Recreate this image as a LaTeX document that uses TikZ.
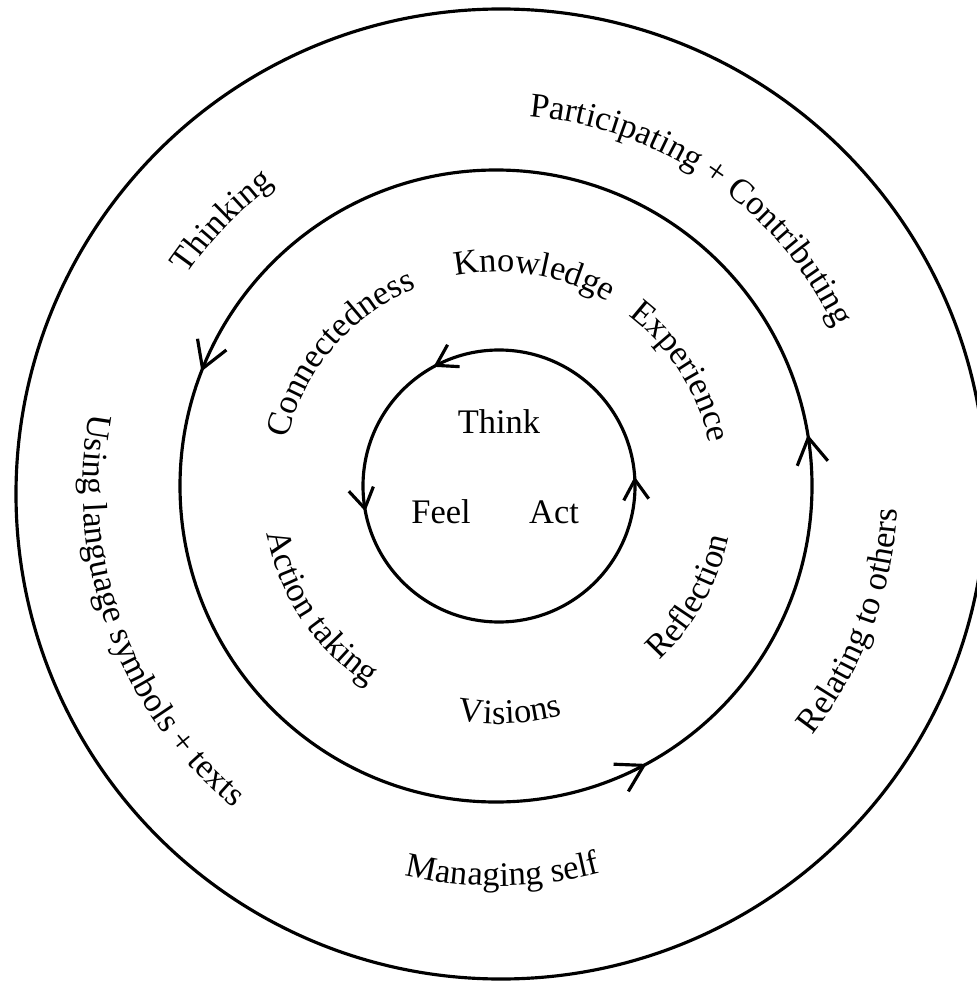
\documentclass[tikz,border=0pt]{standalone}
\usepackage{fontspec}
\setmainfont{Liberation Serif}
\usetikzlibrary{arrows.meta}
\usetikzlibrary{decorations.markings}
\usetikzlibrary{decorations.text}
\newcommand{\ringfont}{\fontsize{9.8}{12}\selectfont}

\begin{document}
\begin{tikzpicture}[line width=0.9pt,
    bigtip/.tip={Straight Barb[length=2.6mm,width=3.1mm]},
    smalltip/.tip={Straight Barb[length=2mm,width=2.5mm]},
    ringtext/.style={decorate, decoration={text along path, text align=center, text={|\ringfont|#1}}},
    every node/.style={font=\ringfont}]
      \useasboundingbox (0,0) rectangle (9.77,-9.82);
      % the three rings
      \draw (5.01,-4.94) circle [radius=4.85];
      \draw [postaction={decorate, decoration={markings,
          mark=at position 0.026 with {\arrow{bigtip}},
          mark=at position 0.441 with {\arrow{bigtip}},
          mark=at position 0.829 with {\arrow{bigtip}}}}]
        (4.96,-4.86) circle [radius=3.16];
      \draw [postaction={decorate, decoration={markings,
          mark=at position 0.011 with {\arrow{smalltip}},
          mark=at position 0.33 with {\arrow{smalltip}},
          mark=at position 0.53 with {\arrow{smalltip}}}}]
        (4.99,-4.86) circle [radius=1.36];

      % centre
      \node [anchor=base] (think) at (4.99,-4.33) {Think};
      \node [anchor=base] (feel) at (4.41,-5.23) {Feel};
      \node [anchor=base] (act) at (5.54,-5.23) {Act};

      % middle ring
      \path [ringtext=Connectedness] (4.98,-4.88) ++(199.5:2.16) arc [start angle=199.5, end angle=79.5, radius=2.16];
      \path [ringtext=Knowledge] (4.98,-4.88) ++(140.4:2.16) arc [start angle=140.4, end angle=20.4, radius=2.16];
      \path [ringtext=Experience] (4.98,-4.88) ++(92.4:2.16) arc [start angle=92.4, end angle=-27.6, radius=2.16];
      \path [ringtext=Action taking] (4.98,-4.88) ++(154:2.36) arc [start angle=154, end angle=274, radius=2.36];
      \path [ringtext=Visions] (4.98,-4.88) ++(213:2.36) arc [start angle=213, end angle=333, radius=2.36];
      \path [ringtext=Reflection] (4.98,-4.88) ++(270.4:2.36) arc [start angle=270.4, end angle=390.4, radius=2.36];

      % outer ring
      \path [ringtext=Thinking] (4.98,-4.88) ++(196:3.77) arc [start angle=196, end angle=76, radius=3.77];
      \path [ringtext=Participating + Contributing] (4.98,-4.88) ++(115.3:3.73) arc [start angle=115.3, end angle=-4.7, radius=3.73];
      \path [ringtext=Using language symbols + texts] (4.98,-4.88) ++(140:4.15) arc [start angle=140, end angle=260, radius=4.15];
      \path [ringtext=Managing self] (4.98,-4.88) ++(210.7:3.98) arc [start angle=210.7, end angle=330.7, radius=3.98];
      \path [ringtext=Relating to others] (4.98,-4.88) ++(279.4:4.0) arc [start angle=279.4, end angle=399.4, radius=4.0];
\end{tikzpicture}
\end{document}
